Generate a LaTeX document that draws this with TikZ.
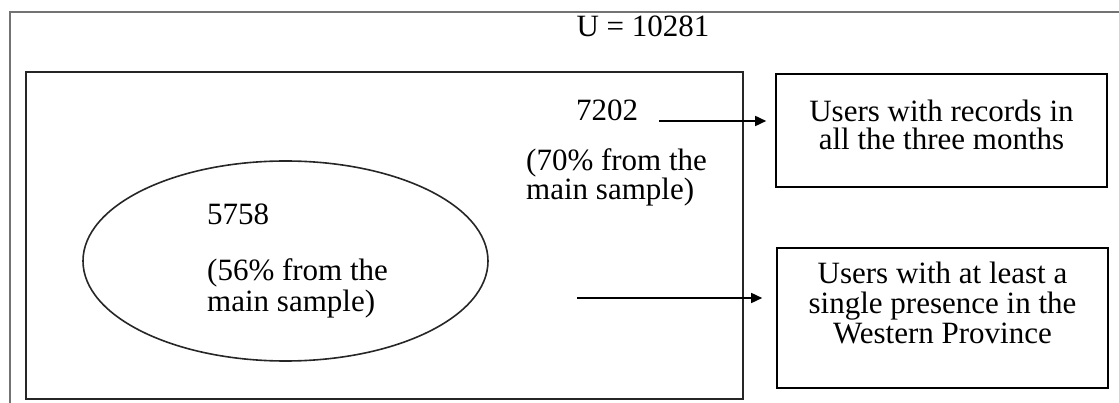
\documentclass[tikz,border=0pt]{standalone}
\usepackage{fontspec}
\setmainfont{Liberation Serif}
\usetikzlibrary{shapes.geometric,arrows.meta,calc}
\begin{document}
\begin{tikzpicture}[x=1pt,y=-1pt,
  txt/.style={inner sep=0pt,font=\fontsize{31}{30}\selectfont},
  lefttxt/.style={txt,anchor=base west,align=left},
  boxtxt/.style={txt,anchor=base,align=center},
  box/.style={draw=black,line width=1.6pt,minimum width=331pt,inner sep=0pt},
  conn/.style={draw=black,line width=1.6pt,-{Triangle[length=11pt,width=10pt]}},
  frame/.style={draw=black!55,line width=1.6pt}]
\useasboundingbox (0,0) rectangle (1119,403);
% outer frame (cropped)
\draw[frame] (10,403) -- (10,12) -- (1119,12);
\node[txt,anchor=base] (U) at (643,37) {U = 10281};
% main sample rectangle
\node[draw=black!85,line width=2pt,minimum width=717pt,minimum height=327pt,inner sep=0pt] (main) at (384.5,235.5) {};
\node[ellipse,draw=black!85,line width=1.6pt,minimum width=405pt,minimum height=200pt,inner sep=0pt] (ell) at (285.5,261) {};
\node[lefttxt] (n7202) at (576,121) {7202};
\node[lefttxt,font=\fontsize{31}{28}\selectfont] (p70) at (526,200) {(70\% from the\\main sample)};
\node[lefttxt] (n5758) at (207,225) {5758};
\node[lefttxt,font=\fontsize{31}{31}\selectfont] (p56) at (207,312) {(56\% from the\\main sample)};
% right boxes
\node[box,minimum height=113pt] (b1) at (941.5,130.5) {};
\node[boxtxt,font=\fontsize{31}{28}\selectfont] (t1) at (941.5,150) {Users with records in\\all the three months};
\node[box,minimum height=140pt] (b2) at (942.5,318) {};
\node[boxtxt,font=\fontsize{31}{30}\selectfont] (t2) at (942.5,343) {Users with at least a\\single presence in the\\Western Province};
% connectors
\coordinate (s1) at (659,121);
\coordinate (s2) at (577,298);
\draw[conn,shorten >=9pt] (s1) -- (s1 -| b1.west);
\draw[conn,shorten >=14pt] (s2) -- (s2 -| b2.west);
\end{tikzpicture}
\end{document}
